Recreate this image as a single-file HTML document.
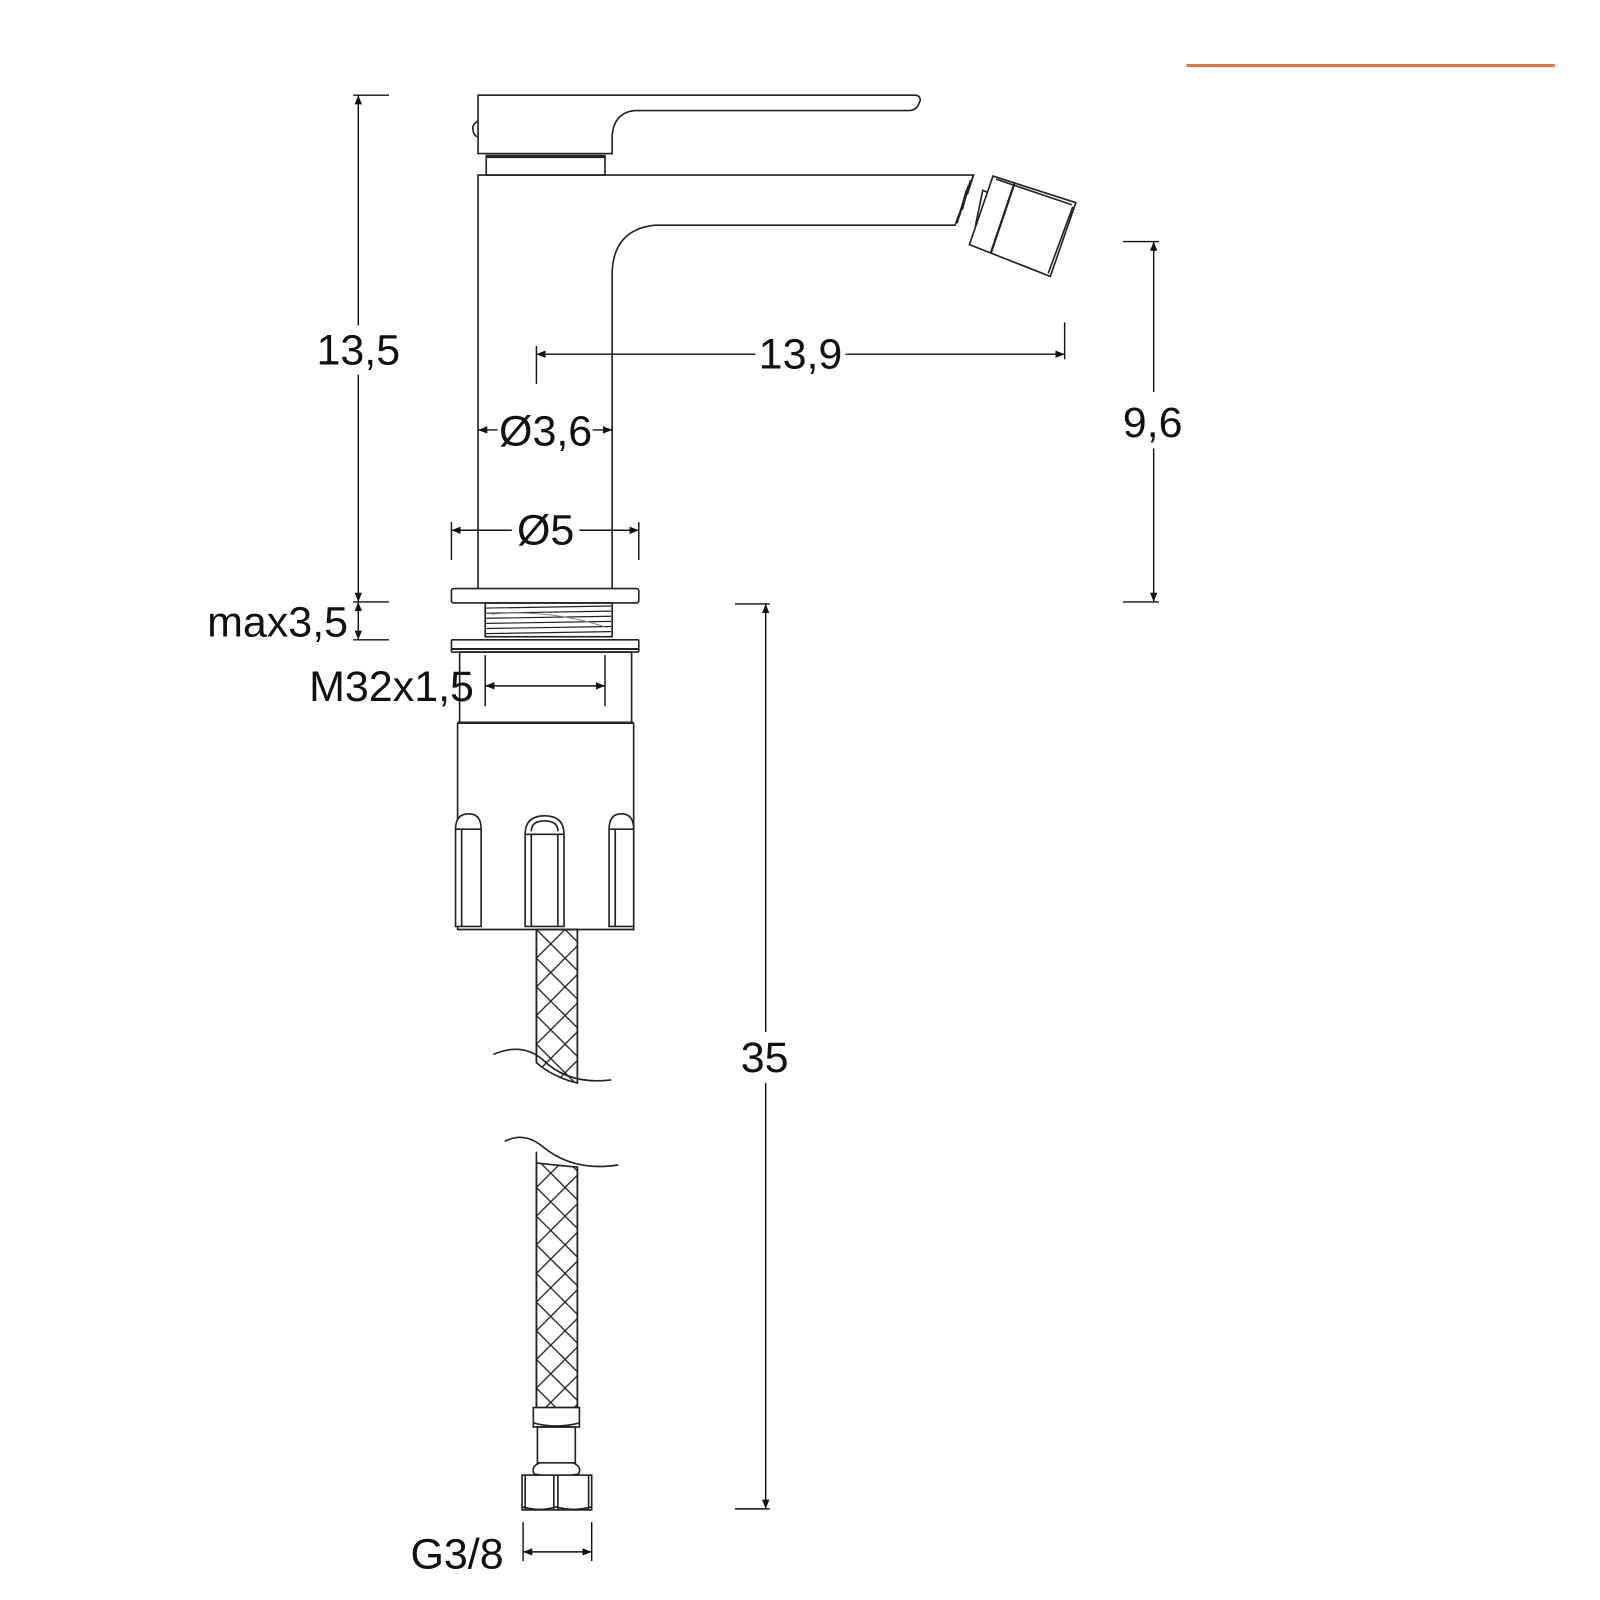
<!DOCTYPE html>
<html><head><meta charset="utf-8"><style>
html,body{margin:0;padding:0;background:#fff;}
svg{display:block;}
text{font-family:"Liberation Sans",sans-serif;font-size:42px;fill:#111;}
</style></head><body>
<svg width="1600" height="1600" viewBox="0 0 1563 1563" xmlns="http://www.w3.org/2000/svg">
<defs>
<marker id="a" viewBox="0 0 10 10" refX="10" refY="5" markerWidth="9" markerHeight="9" orient="auto-start-reverse" markerUnits="userSpaceOnUse"><path d="M0,1 L10,5 L0,9 Z" fill="#111"/></marker>
<pattern id="x" width="28" height="28" patternUnits="userSpaceOnUse" x="524" y="908">
<path d="M0,0 L28,28 M28,0 L0,28 M-14,14 L14,42 M14,-14 L42,14 M14,-14 L-14,14 M42,14 L14,42" stroke="#222" stroke-width="1.3" fill="none"/>
</pattern>
</defs>
<line x1="1159" y1="64" x2="1519" y2="64" stroke="#e3733f" stroke-width="3"/>
<g fill="none" stroke="#222" stroke-width="1.6">
<path d="M467,93 L895,93 Q899,94 899,98 L897,103 Q894,108 888,108 L620,108 Q600,110 598,132 L598,150 L467,150 Z" fill="#fff"/>
<path d="M467,118 Q461,122 462,126 Q462,132 467,134" />
<rect x="475" y="152" width="116" height="19"/>
<line x1="475" y1="153" x2="591" y2="153" stroke-width="3"/>
<path d="M467,575 L467,171 L951,171 L933,220 L640,220 Q600,224 598,265 L598,575"/>
<path d="M951,171 L945,190 M948,176 L940,205 M946,181 L937,212 M944,186 L935,218"/>
<path d="M960,186 L975,192 L966,225 L953,220 Z"/>
<path d="M970,172 L1051,198 L1026,270 L947,239 Z" fill="#fff"/>
<path d="M973,175 L1047,200 M1048,202 L1024,267"/>
<line x1="991" y1="179" x2="968" y2="247" stroke-width="2.2"/>
<rect x="441" y="575" width="183" height="14" rx="2" fill="#fff"/>
<rect x="474" y="589" width="124" height="33"/>
<path d="M475,594 L597,592 M475,599 L597,597 M475,604 L597,602 M475,609 L597,607 M475,614 L597,612 M475,619 L597,617" stroke-width="1.2"/>
<path d="M480,600 Q536,595 590,612" stroke="#888" stroke-width="1"/>
<rect x="441" y="625" width="183" height="12" rx="1"/>
<line x1="441" y1="634" x2="624" y2="634" stroke-width="2"/>
<rect x="449" y="637" width="168" height="69"/>
<line x1="447" y1="706" x2="619" y2="706" stroke-width="2.4"/>
<path d="M447,706 L447,908 L619,908 L619,706"/>
<path d="M445,810 Q445,795 458,795 Q470,795 470,810 L470,905 L445,905 Z" fill="#fff"/>
<path d="M451,810 L451,905 M445,810 L470,810"/>
<path d="M513,815 Q513,797 532,797 Q551,797 551,815 L551,905 L513,905 Z" fill="#fff"/>
<path d="M519,815 L519,905 M545,815 L545,905 M513,815 L551,815 M519,812 Q519,802 532,802 Q545,802 545,812"/>
<path d="M595,810 Q595,795 607,795 Q619,795 619,810 L619,905 L595,905 Z" fill="#fff"/>
<path d="M601,810 L601,905 M595,810 L619,810"/>
<path d="M524,908 L524,1038 Q540,1052 564,1058 L564,908 Z" fill="url(#x)"/>
<path d="M524,908 L524,1038 M564,908 L564,1058"/>
<path d="M482,1030 Q510,1018 530,1035 Q555,1060 597,1055"/>
<path d="M524,1136 L524,1375 L564,1375 L564,1140 Q540,1138 524,1136 Z" fill="url(#x)"/>
<path d="M493,1115 Q512,1105 530,1120 Q560,1145 604,1138"/>
<path d="M524,1125 L524,1375 M564,1140 L564,1375"/>
<rect x="521" y="1375" width="45" height="19" fill="#fff"/>
<path d="M521,1390 Q543,1396 566,1390"/>
<rect x="525" y="1394" width="37" height="35"/>
<path d="M527,1429 Q518,1433 522,1440 M560,1429 Q569,1433 565,1440 M522,1440 Q543,1444 565,1440"/>
<rect x="510" y="1441" width="68" height="34" fill="#fff"/>
<path d="M513,1441 L513,1475 M575,1441 L575,1475 M541,1441 L541,1475 M545,1441 L545,1475"/>
<path d="M510,1472 Q527,1477 543,1472 Q560,1477 578,1472"/>
</g>
<g stroke="#111" stroke-width="1.4" fill="none">
<line x1="345" y1="93" x2="380" y2="93"/><line x1="345" y1="588" x2="380" y2="588"/>
<line x1="350" y1="93" x2="350" y2="318" marker-start="url(#a)"/>
<line x1="350" y1="366" x2="350" y2="588" marker-end="url(#a)"/>
<line x1="345" y1="625" x2="380" y2="625"/>
<line x1="350" y1="588" x2="350" y2="625" marker-start="url(#a)" marker-end="url(#a)"/>
<line x1="524" y1="338" x2="524" y2="375"/><line x1="1040" y1="315" x2="1040" y2="351"/>
<line x1="524" y1="346" x2="738" y2="346" marker-start="url(#a)"/>
<line x1="826" y1="346" x2="1040" y2="346" marker-end="url(#a)"/>
<line x1="467" y1="420" x2="486" y2="420" marker-start="url(#a)"/>
<line x1="579" y1="420" x2="598" y2="420" marker-end="url(#a)"/>
<line x1="441" y1="510" x2="441" y2="547"/><line x1="624" y1="510" x2="624" y2="547"/>
<line x1="441" y1="518" x2="500" y2="518" marker-start="url(#a)"/>
<line x1="566" y1="518" x2="624" y2="518" marker-end="url(#a)"/>
<line x1="1097" y1="236" x2="1132" y2="236"/><line x1="1097" y1="588" x2="1132" y2="588"/>
<line x1="1127" y1="236" x2="1127" y2="383" marker-start="url(#a)"/>
<line x1="1127" y1="438" x2="1127" y2="588" marker-end="url(#a)"/>
<line x1="718" y1="590" x2="752" y2="590"/><line x1="718" y1="1474" x2="752" y2="1474"/>
<line x1="748" y1="590" x2="748" y2="1008" marker-start="url(#a)"/>
<line x1="748" y1="1058" x2="748" y2="1474" marker-end="url(#a)"/>
<line x1="474" y1="640" x2="474" y2="690"/><line x1="591" y1="640" x2="591" y2="690"/>
<line x1="474" y1="670" x2="591" y2="670" marker-start="url(#a)" marker-end="url(#a)"/>
<line x1="511" y1="1487" x2="511" y2="1525"/><line x1="578" y1="1487" x2="578" y2="1525"/>
<line x1="511" y1="1516" x2="578" y2="1516" marker-start="url(#a)" marker-end="url(#a)"/>
</g>
<text x="350" y="356" text-anchor="middle">13,5</text>
<text x="340" y="622" text-anchor="end">max3,5</text>
<text x="782" y="360" text-anchor="middle">13,9</text>
<text x="533" y="435" text-anchor="middle">Ø3,6</text>
<text x="533" y="532" text-anchor="middle">Ø5</text>
<text x="1126" y="427" text-anchor="middle">9,6</text>
<text x="747" y="1047" text-anchor="middle">35</text>
<text x="463" y="685" text-anchor="end">M32x1,5</text>
<text x="492" y="1532" text-anchor="end">G3/8</text>
</svg>
</body></html>
